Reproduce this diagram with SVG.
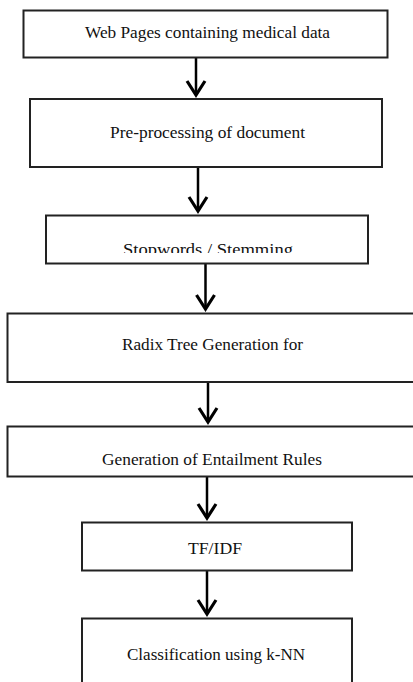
<svg xmlns="http://www.w3.org/2000/svg" width="413" height="682" viewBox="0 0 413 682">
<style>
.box{fill:#fff;stroke:#222;stroke-width:2}
.lbl{font-family:"Liberation Serif","Times New Roman",serif;font-size:16px;fill:#111}
.con{stroke:#000;stroke-width:2.5;fill:none}
.head{stroke:#000;stroke-width:3.2;fill:none;stroke-linejoin:miter}
</style>
<defs>
<clipPath id="clip3"><rect x="46" y="216" width="322" height="37"/></clipPath>
</defs>
<rect width="413" height="682" fill="#fff"/>
<g id="connectors">
<line class="con" x1="196" y1="58" x2="196" y2="95"/><polyline class="head" points="187,81 196,95 205,81"/>
<line class="con" x1="198" y1="168" x2="198" y2="211"/><polyline class="head" points="189,197 198,211 207,197"/>
<line class="con" x1="205.5" y1="264" x2="205.5" y2="309"/><polyline class="head" points="196.5,295 205.5,309 214.5,295"/>
<line class="con" x1="208" y1="383" x2="208" y2="422"/><polyline class="head" points="199,408 208,422 217,408"/>
<line class="con" x1="207" y1="477" x2="207" y2="518"/><polyline class="head" points="198,504 207,518 216,504"/>
<line class="con" x1="207" y1="571" x2="207" y2="614"/><polyline class="head" points="198,600 207,614 216,600"/>
</g>
<g id="n1"><rect class="box" x="23.5" y="10.5" width="364" height="47"/><text class="lbl" x="85" y="38" textLength="245" lengthAdjust="spacingAndGlyphs">Web Pages containing medical data</text></g>
<g id="n2"><rect class="box" x="30" y="99" width="352" height="68"/><text class="lbl" x="110" y="138" textLength="195" lengthAdjust="spacingAndGlyphs">Pre-processing of document</text></g>
<g id="n3"><rect class="box" x="46" y="215.5" width="322" height="48"/><text class="lbl" x="123" y="255" textLength="170" lengthAdjust="spacingAndGlyphs" clip-path="url(#clip3)">Stopwords / Stemming</text></g>
<g id="n4"><rect class="box" x="7.5" y="313.5" width="420" height="68.5"/><text class="lbl" x="122" y="350" textLength="181" lengthAdjust="spacingAndGlyphs">Radix Tree Generation for</text></g>
<g id="n5"><rect class="box" x="7.5" y="426.5" width="420" height="50"/><text class="lbl" x="102" y="465" textLength="220" lengthAdjust="spacingAndGlyphs">Generation of Entailment Rules</text></g>
<g id="n6"><rect class="box" x="82" y="522.5" width="270" height="48"/><text class="lbl" x="188" y="554" textLength="54" lengthAdjust="spacingAndGlyphs">TF/IDF</text></g>
<g id="n7"><rect class="box" x="82" y="618.5" width="270" height="80"/><text class="lbl" x="127" y="660" textLength="178" lengthAdjust="spacingAndGlyphs">Classification using k-NN</text></g>
</svg>
